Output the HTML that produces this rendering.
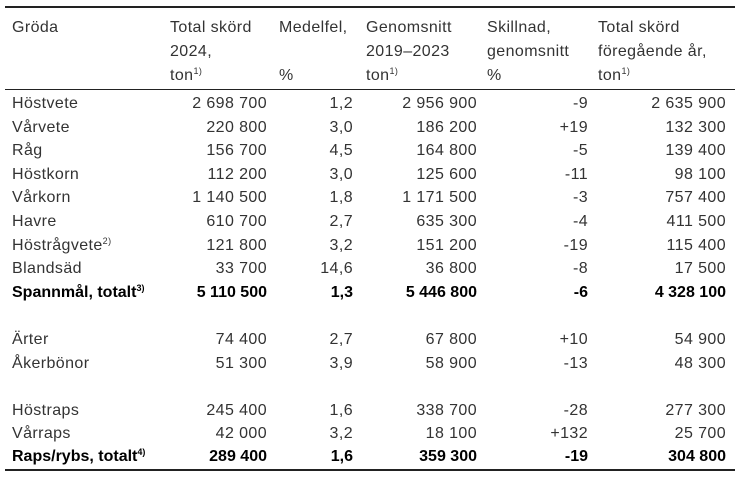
<!DOCTYPE html>
<html><head><meta charset="utf-8"><style>
body{margin:0;width:739px;height:481px;background:#fff;font-family:"Liberation Sans",sans-serif;font-size:16px;letter-spacing:0.4px;color:#333;position:relative;overflow:hidden}
.l{position:absolute;left:5px;width:730px;background:#222}
.r{position:absolute;left:0;width:739px;height:22px;line-height:22px}
.r span{position:absolute;white-space:nowrap}
.c0{left:12px}
.c1{right:472px}.c2{right:386px}.c3{right:262px}.c4{right:151px}.c5{right:13px}
.b{font-weight:bold;color:#000;letter-spacing:0}
sup{font-size:9px;vertical-align:6px;line-height:0}
.h{position:absolute;white-space:nowrap;line-height:24px}
</style></head><body>
<div class="l" style="top:6px;height:2px"></div>
<div class="l" style="top:89px;height:1px"></div>
<div class="l" style="top:469px;height:2px"></div>
<div class="h" style="left:12px;top:16px">Gröda</div>
<div class="h" style="left:170px;top:16px">Total skörd<br>2024,<br>ton<sup>1)</sup></div>
<div class="h" style="left:279px;top:16px">Medelfel,<br><br>%</div>
<div class="h" style="left:366px;top:16px">Genomsnitt<br>2019–2023<br>ton<sup>1)</sup></div>
<div class="h" style="left:487px;top:16px">Skillnad,<br>genomsnitt<br>%</div>
<div class="h" style="left:598px;top:16px">Total skörd<br>föregående år,<br>ton<sup>1)</sup></div>

<div class="r" style="top:93px"><span class="c0">Höstvete</span><span class="c1">2 698 700</span><span class="c2">1,2</span><span class="c3">2 956 900</span><span class="c4">-9</span><span class="c5">2 635 900</span></div>
<div class="r" style="top:116.6px"><span class="c0">Vårvete</span><span class="c1">220 800</span><span class="c2">3,0</span><span class="c3">186 200</span><span class="c4">+19</span><span class="c5">132 300</span></div>
<div class="r" style="top:140.2px"><span class="c0">Råg</span><span class="c1">156 700</span><span class="c2">4,5</span><span class="c3">164 800</span><span class="c4">-5</span><span class="c5">139 400</span></div>
<div class="r" style="top:163.8px"><span class="c0">Höstkorn</span><span class="c1">112 200</span><span class="c2">3,0</span><span class="c3">125 600</span><span class="c4">-11</span><span class="c5">98 100</span></div>
<div class="r" style="top:187.4px"><span class="c0">Vårkorn</span><span class="c1">1 140 500</span><span class="c2">1,8</span><span class="c3">1 171 500</span><span class="c4">-3</span><span class="c5">757 400</span></div>
<div class="r" style="top:211px"><span class="c0">Havre</span><span class="c1">610 700</span><span class="c2">2,7</span><span class="c3">635 300</span><span class="c4">-4</span><span class="c5">411 500</span></div>
<div class="r" style="top:234.6px"><span class="c0">Höstrågvete<sup>2)</sup></span><span class="c1">121 800</span><span class="c2">3,2</span><span class="c3">151 200</span><span class="c4">-19</span><span class="c5">115 400</span></div>
<div class="r" style="top:258.2px"><span class="c0">Blandsäd</span><span class="c1">33 700</span><span class="c2">14,6</span><span class="c3">36 800</span><span class="c4">-8</span><span class="c5">17 500</span></div>
<div class="r b" style="top:281.8px"><span class="c0">Spannmål, totalt<sup>3)</sup></span><span class="c1">5 110 500</span><span class="c2">1,3</span><span class="c3">5 446 800</span><span class="c4">-6</span><span class="c5">4 328 100</span></div>
<div class="r" style="top:329px"><span class="c0">Ärter</span><span class="c1">74 400</span><span class="c2">2,7</span><span class="c3">67 800</span><span class="c4">+10</span><span class="c5">54 900</span></div>
<div class="r" style="top:352.6px"><span class="c0">Åkerbönor</span><span class="c1">51 300</span><span class="c2">3,9</span><span class="c3">58 900</span><span class="c4">-13</span><span class="c5">48 300</span></div>
<div class="r" style="top:399.8px"><span class="c0">Höstraps</span><span class="c1">245 400</span><span class="c2">1,6</span><span class="c3">338 700</span><span class="c4">-28</span><span class="c5">277 300</span></div>
<div class="r" style="top:423.4px"><span class="c0">Vårraps</span><span class="c1">42 000</span><span class="c2">3,2</span><span class="c3">18 100</span><span class="c4">+132</span><span class="c5">25 700</span></div>
<div class="r b" style="top:446px"><span class="c0">Raps/rybs, totalt<sup>4)</sup></span><span class="c1">289 400</span><span class="c2">1,6</span><span class="c3">359 300</span><span class="c4">-19</span><span class="c5">304 800</span></div>
</body></html>
